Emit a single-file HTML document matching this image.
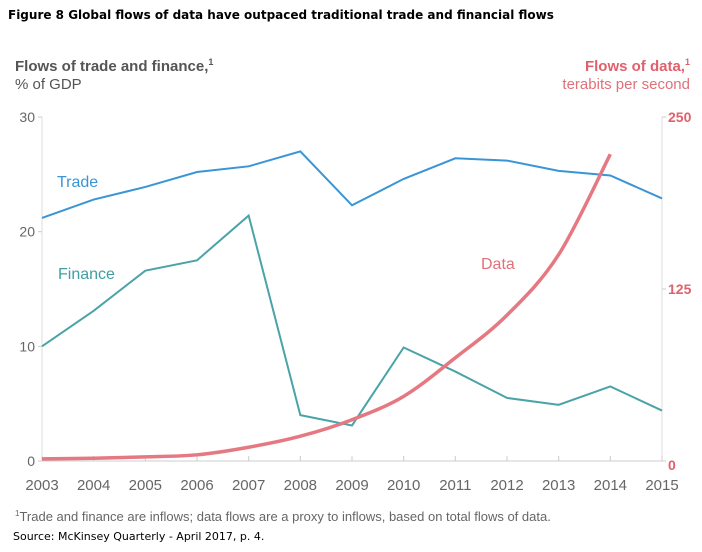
<!DOCTYPE html>
<html><head><meta charset="utf-8"><style>
body{margin:0;background:#fff;width:702px;height:547px;overflow:hidden;font-family:"Liberation Sans",sans-serif}
</style></head><body>
<svg width="702" height="547">
<text x="8" y="19" font-size="12" font-weight="bold" fill="#000" font-family="DejaVu Sans, sans-serif">Figure 8 Global flows of data have outpaced traditional trade and financial flows</text>
<text x="15" y="71" font-size="15" font-weight="bold" fill="#555">Flows of trade and finance,<tspan font-size="9" dy="-6">1</tspan></text>
<text x="15" y="89" font-size="15" fill="#555">% of GDP</text>
<text x="690" y="71" font-size="15" font-weight="bold" fill="#e0606c" text-anchor="end">Flows of data,<tspan font-size="9" dy="-6">1</tspan></text>
<text x="690" y="89" font-size="15" fill="#e0707a" text-anchor="end">terabits per second</text>
<g id="axes"></g>
<g id="series"></g>
<text x="57" y="187" font-size="16" fill="#3a95d6">Trade</text>
<text x="58" y="279" font-size="16" fill="#3f9ea3">Finance</text>
<text x="481" y="269" font-size="16" fill="#e0707a">Data</text>
<text x="15" y="521" font-size="13" fill="#666"><tspan font-size="8" dy="-5">1</tspan><tspan dy="5">Trade and finance are inflows; data flows are a proxy to inflows, based on total flows of data.</tspan></text>
<text x="13" y="540" font-size="11" fill="#000" font-family="DejaVu Sans, sans-serif">Source: McKinsey Quarterly - April 2017, p. 4.</text>
</svg>
<script>
const years=[2003,2004,2005,2006,2007,2008,2009,2010,2011,2012,2013,2014,2015];
const trade=[21.2,22.8,23.9,25.2,25.7,27.0,22.3,24.6,26.4,26.2,25.3,24.9,22.9];
const finance=[10.0,13.1,16.6,17.5,21.4,4.0,3.1,9.9,7.8,5.5,4.9,6.5,4.4];
const dataFlow=[1.5,2,3,4.5,10,18,30,47,75,106,150,223];
const leftTicks=[0,10,20,30];
const rightTicks=[0,125,250];
const NS='http://www.w3.org/2000/svg';
const x=i=>42+i*(620/12);
const yl=v=>461-v*(344/30);
const yr=v=>461-v*(344/250);
function mk(t,a,p){const e=document.createElementNS(NS,t);for(const k in a)e.setAttribute(k,a[k]);p.appendChild(e);return e;}
const ax=document.getElementById('axes'),sg=document.getElementById('series');
let e=mk('line',{x1:42,y1:117,x2:42,y2:461,stroke:'#ddd'},ax);


e=mk('line',{x1:662,y1:117,x2:662,y2:461,stroke:'#ddd'},ax);


e=mk('line',{x1:42,y1:461,x2:662,y2:461,stroke:'#ccc'},ax);


leftTicks.forEach(v=>{
  mk('line',{x1:38,y1:yl(v),x2:42,y2:yl(v),stroke:'#ccc'},ax);
  const t=mk('text',{x:35,y:yl(v)+5,'font-size':14,fill:'#666','text-anchor':'end'},ax);t.textContent=v;
  
  
});
rightTicks.forEach(v=>{
  mk('line',{x1:662,y1:yr(v),x2:666,y2:yr(v),stroke:'#ccc'},ax);
  const t=mk('text',{x:668,y:yr(v)+(v==0?9:5),'font-size':14,'font-weight':'bold',fill:'#e0606c'},ax);t.textContent=v;
  
  
});
years.forEach((yv,i)=>{
  mk('line',{x1:x(i),y1:456,x2:x(i),y2:461,stroke:'#ccc'},ax);
  const t=mk('text',{x:x(i),y:490,'font-size':15,fill:'#666','text-anchor':'middle'},ax);t.textContent=yv;
  
  
});
function poly(arr,f){return arr.map((v,i)=>x(i)+','+f(v)).join(' ');}
e=mk('polyline',{points:poly(trade,yl),fill:'none',stroke:'#3a95d6','stroke-width':2},sg);


e=mk('polyline',{points:poly(finance,yl),fill:'none',stroke:'#4aa3a8','stroke-width':2},sg);


const pts=dataFlow.map((v,i)=>[x(i),yr(v)]);
let d='M'+pts[0].join(',');
for(let i=0;i<pts.length-1;i++){
  const p0=pts[Math.max(0,i-1)],p1=pts[i],p2=pts[i+1],p3=pts[Math.min(pts.length-1,i+2)];
  const c1=[p1[0]+(p2[0]-p0[0])/6,p1[1]+(p2[1]-p0[1])/6];
  const c2=[p2[0]-(p3[0]-p1[0])/6,p2[1]-(p3[1]-p1[1])/6];
  d+=' C'+c1.join(',')+' '+c2.join(',')+' '+p2.join(',');
}
e=mk('path',{d:d,fill:'none',stroke:'#e57880','stroke-width':3.5},sg);


</script>
</body></html>
